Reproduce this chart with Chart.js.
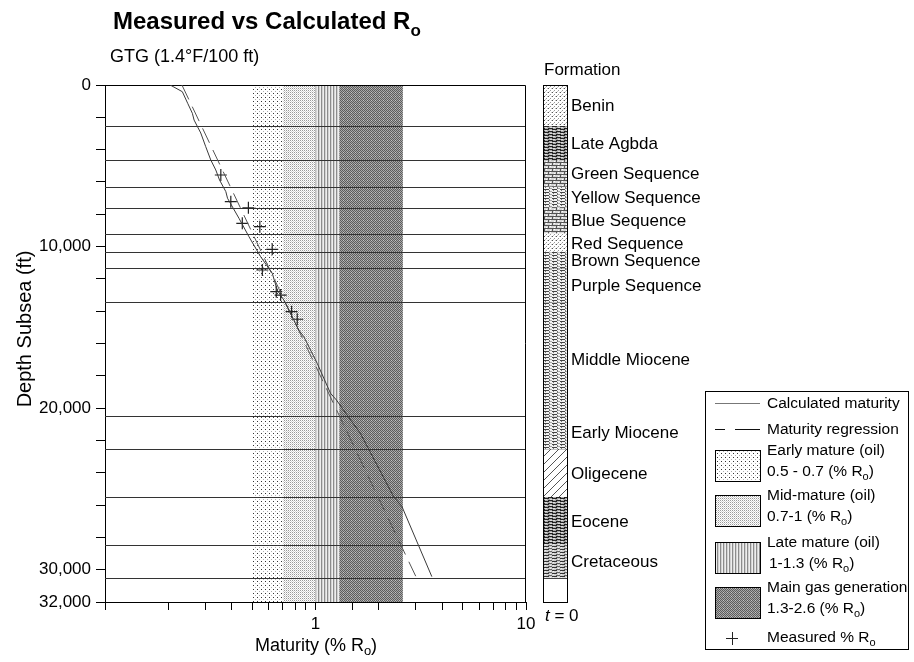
<!DOCTYPE html>
<html>
<head>
<meta charset="utf-8">
<script src="https://cdn.jsdelivr.net/npm/chart.js@4.4.1/dist/chart.umd.min.js"></script>
<style>
  body { margin: 0; background: #fff; }
  canvas { display: block; }
</style>
</head>
<body>
<canvas id="roChart" width="914" height="662"></canvas>
<script>
// calculated maturity (depth subsea ft, % Ro)
const calcDepth = [0, 415, 1130, 1750, 2170, 2970, 3820, 4640, 5260, 5880, 6600, 7010, 8250, 9390, 10630, 11650, 12690, 13310, 14550, 15170, 15580, 17230, 19080, 19500, 20430, 21560, 25480, 26100, 30430];
const calcRo = [0.204, 0.233, 0.247, 0.260, 0.265, 0.285, 0.301, 0.318, 0.336, 0.350, 0.375, 0.382, 0.433, 0.483, 0.549, 0.623, 0.658, 0.707, 0.789, 0.833, 0.880, 1.019, 1.178, 1.258, 1.413, 1.634, 2.35, 2.576, 3.57];

// maturity regression
const regDepth = [0, 30430];
const regRo = [0.232, 3.0];

// measured % Ro
const measDepth = [5570, 7220, 7600, 8560, 8770, 10170, 11450, 12790, 13000, 14030, 14500];
const measRo = [0.355, 0.396, 0.480, 0.449, 0.544, 0.623, 0.559, 0.651, 0.683, 0.770, 0.819];

// maturity windows
const bandFrom = [0.5, 0.7, 1.0, 1.3];
const bandTo = [0.7, 1.0, 1.3, 2.6];
const bandTitle = ['Early mature (oil)', 'Mid-mature (oil)', 'Late mature (oil)', 'Main gas generation'];
const bandRange = ['0.5 - 0.7 (% R', '0.7-1 (% R', '1-1.3 (% R', '1.3-2.6 (% R'];

// formations (top depth ft)
const formations = ['Benin', 'Late Agbda', 'Green Sequence', 'Yellow Sequence', 'Blue Sequence', 'Red Sequence', 'Brown Sequence', 'Purple Sequence', 'Middle Miocene', 'Early Miocene', 'Oligecene', 'Eocene', 'Cretaceous'];
const formationTop = [0, 2550, 4650, 6300, 7600, 9200, 10350, 11350, 13450, 20500, 22550, 25500, 28450];
const formationBase = 30500;

const depthMax = 32000;
const yLabelled = [0, 10000, 20000, 30000, 32000];
const xLabelled = [1, 10];

const FONT = '"Liberation Sans", Arial, Helvetica, sans-serif';

// ---- fill patterns ----
function makePattern(w, h, paint) {
  const c = document.createElement('canvas');
  c.width = w; c.height = h;
  const g = c.getContext('2d');
  paint(g);
  return g.createPattern(c, 'repeat');
}
function px(g, color, rects) {
  g.fillStyle = color;
  rects.forEach(r => g.fillRect(r[0], r[1], r[2] || 1, r[3] || 1));
}
const pats = {
  early: makePattern(4, 4, g => { px(g, '#fff', [[0, 0, 4, 4]]); px(g, '#333', [[1, 1]]); px(g, '#b0b0b0', [[3, 3]]); }),
  mid: makePattern(2, 2, g => { px(g, '#fff', [[0, 0, 2, 2]]); px(g, '#9a9a9a', [[0, 0]]); px(g, '#d4d4d4', [[1, 1]]); }),
  late: makePattern(3, 2, g => { px(g, '#8c8c8c', [[0, 0, 1, 2]]); px(g, '#d2d2d2', [[1, 0, 1, 2]]); px(g, '#eeeeee', [[2, 0, 1, 2]]); }),
  gas: makePattern(4, 4, g => { px(g, '#a8a8a8', [[0, 0, 4, 4]]); px(g, '#5c5c5c', [[0, 0], [2, 0], [1, 1], [3, 1], [0, 2], [2, 2], [1, 3], [3, 3]]); px(g, '#c4c4c4', [[3, 0]]); }),
  sand: makePattern(4, 4, g => { px(g, '#fff', [[0, 0, 4, 4]]); px(g, '#555', [[0, 0]]); px(g, '#999', [[2, 2]]); px(g, '#c8c8c8', [[3, 0], [1, 3]]); }),
  shaleDark: makePattern(8, 3, g => { px(g, '#a8a8a8', [[0, 0, 8, 3]]); px(g, '#222', [[0, 0, 5, 1], [4, 2, 4, 1], [0, 2, 1, 1]]); px(g, '#dcdcdc', [[6, 1, 2, 1], [1, 1, 2, 1]]); }),
  brickDot: makePattern(8, 6, g => { px(g, '#d8d8d8', [[0, 0, 8, 6]]); px(g, '#555', [[0, 0, 8, 1], [0, 3, 8, 1], [0, 1, 1, 2], [4, 4, 1, 2]]); px(g, '#fff', [[2, 1], [6, 4], [6, 2], [2, 5]]); }),
  brick: makePattern(8, 3, g => { px(g, '#f2f2f2', [[0, 0, 8, 3]]); px(g, '#444', [[0, 0, 5, 1]]); px(g, '#777', [[5, 1, 1, 2], [1, 1, 1, 1]]); px(g, '#aaa', [[6, 2, 2, 1]]); }),
  hatch: makePattern(8, 8, g => { px(g, '#fff', [[0, 0, 8, 8]]); for (let i = 0; i < 8; i++) px(g, '#555', [[7 - i, i]]); }),
  shaleMid: makePattern(8, 3, g => { px(g, '#cfcfcf', [[0, 0, 8, 3]]); px(g, '#333', [[0, 0, 5, 1]]); px(g, '#666', [[4, 2, 4, 1]]); px(g, '#f0f0f0', [[1, 1], [6, 1]]); })
};
const bandStyle = ['early', 'mid', 'late', 'gas'];
const formationStyle = ['sand', 'shaleDark', 'brickDot', 'brick', 'brickDot', 'sand', 'brick', 'brick', 'brick', 'brick', 'hatch', 'shaleDark', 'shaleMid'];

// text with a subscript "o" after R
function subText(ctx, main, sub, tail, x, y, size, bold, align) {
  const f = (bold ? 'bold ' : '') + size + 'px ' + FONT;
  const fs = (bold ? 'bold ' : '') + Math.round(size * 0.72) + 'px ' + FONT;
  ctx.font = f; const w1 = ctx.measureText(main).width; const w3 = ctx.measureText(tail).width;
  ctx.font = fs; const w2 = ctx.measureText(sub).width;
  let x0 = x;
  if (align === 'center') x0 = x - (w1 + w2 + w3) / 2;
  ctx.textAlign = 'left';
  ctx.font = f; ctx.fillText(main, x0, y);
  ctx.font = fs; ctx.fillText(sub, x0 + w1, y + size * 0.3);
  ctx.font = f; ctx.fillText(tail, x0 + w1 + w2, y);
}

const backdrop = {
  id: 'backdrop',
  beforeDatasetsDraw(chart) {
    const { ctx, chartArea: a, scales: { x, y } } = chart;
    ctx.save();
    for (let i = 0; i < bandFrom.length; i++) {
      const x0 = x.getPixelForValue(bandFrom[i]);
      const x1 = x.getPixelForValue(bandTo[i]);
      ctx.fillStyle = pats[bandStyle[i]];
      ctx.fillRect(x0, a.top, x1 - x0, a.bottom - a.top);
    }
    ctx.strokeStyle = '#333';
    ctx.lineWidth = 1;
    formationTop.slice(1).concat([formationBase]).forEach(d => {
      const yy = Math.round(y.getPixelForValue(d)) + 0.5;
      ctx.beginPath(); ctx.moveTo(a.left, yy); ctx.lineTo(a.right, yy); ctx.stroke();
    });
    ctx.strokeStyle = '#000';
    ctx.beginPath();
    ctx.moveTo(a.left, a.top + 0.5); ctx.lineTo(a.right - 0.5, a.top + 0.5); ctx.lineTo(a.right - 0.5, a.bottom);
    ctx.stroke();
    ctx.restore();
  }
};

const annotations = {
  id: 'annotations',
  afterDraw(chart) {
    const { ctx, chartArea: a, scales: { y } } = chart;
    ctx.save();
    ctx.fillStyle = '#000';
    ctx.textBaseline = 'alphabetic';
    subText(ctx, 'Measured vs Calculated R', 'o', '', 113, 29, 24, true, 'left');
    ctx.font = '18px ' + FONT;
    ctx.textAlign = 'left';
    ctx.fillText('GTG (1.4\u00B0F/100 ft)', 110, 62);

    // axis titles
    ctx.textBaseline = 'middle';
    subText(ctx, 'Maturity (% R', 'o', ')', 316, 646, 18, false, 'center');
    ctx.save();
    ctx.translate(25, 329);
    ctx.rotate(-Math.PI / 2);
    ctx.font = '20px ' + FONT;
    ctx.textAlign = 'center';
    ctx.fillText('Depth Subsea (ft)', 0, 0);
    ctx.restore();

    // formation column
    const cx = 543, cw = 24;
    for (let i = 0; i < formations.length; i++) {
      const y0 = y.getPixelForValue(formationTop[i]);
      const y1 = y.getPixelForValue(i + 1 < formations.length ? formationTop[i + 1] : formationBase);
      ctx.fillStyle = pats[formationStyle[i]];
      ctx.fillRect(cx, y0, cw, y1 - y0);
      ctx.strokeStyle = '#444';
      ctx.beginPath(); ctx.moveTo(cx, Math.round(y1) + 0.5); ctx.lineTo(cx + cw, Math.round(y1) + 0.5); ctx.stroke();
      ctx.fillStyle = '#000';
      ctx.font = '17px ' + FONT;
      ctx.textAlign = 'left';
      ctx.fillText(formations[i], 571, (y0 + y1) / 2 + 1);
    }
    ctx.strokeStyle = '#000';
    ctx.strokeRect(cx + 0.5, a.top + 0.5, cw, a.bottom - a.top);
    ctx.fillStyle = '#000';
    ctx.font = '17px ' + FONT;
    ctx.textAlign = 'left';
    ctx.fillText('Formation', 544, 70);
    ctx.font = 'italic 17px ' + FONT;
    ctx.fillText('t', 545, 616);
    const tw = ctx.measureText('t').width;
    ctx.font = '17px ' + FONT;
    ctx.fillText(' = 0', 545 + tw, 616);

    // legend
    const lx = 715, tx = 767;
    ctx.strokeStyle = '#000';
    ctx.lineWidth = 1;
    ctx.strokeRect(705.5, 391.5, 203, 258);
    ctx.font = '15.5px ' + FONT;
    ctx.strokeStyle = '#777';
    ctx.beginPath(); ctx.moveTo(lx, 403.5); ctx.lineTo(lx + 45, 403.5); ctx.stroke();
    ctx.fillText('Calculated maturity', tx, 404);
    ctx.strokeStyle = '#111';
    ctx.beginPath(); ctx.moveTo(lx, 429.5); ctx.lineTo(lx + 10, 429.5); ctx.moveTo(lx + 20, 429.5); ctx.lineTo(lx + 45, 429.5); ctx.stroke();
    ctx.fillText('Maturity regression', tx, 430);
    const boxTop = [450, 495, 542, 587];
    for (let i = 0; i < bandFrom.length; i++) {
      ctx.fillStyle = pats[bandStyle[i]];
      ctx.fillRect(lx, boxTop[i], 45, 31);
      ctx.strokeStyle = '#000';
      ctx.strokeRect(lx + 0.5, boxTop[i] + 0.5, 45, 31);
      ctx.fillStyle = '#000';
      ctx.font = '15.5px ' + FONT;
      ctx.fillText(bandTitle[i], tx, boxTop[i] + 1);
      subText(ctx, bandRange[i], 'o', ')', tx + (i === 2 ? 2 : 0), boxTop[i] + 22, 15.5, false, 'left');
    }
    ctx.strokeStyle = '#222';
    ctx.beginPath();
    ctx.moveTo(726, 638.5); ctx.lineTo(738, 638.5);
    ctx.moveTo(732.5, 632); ctx.lineTo(732.5, 645);
    ctx.stroke();
    subText(ctx, 'Measured % R', 'o', '', tx, 638, 15.5, false, 'left');
    ctx.restore();
  }
};

const canvas = document.getElementById('roChart');
const chart = new Chart(canvas, {
  type: 'scatter',
  data: {
    datasets: [
      {
        label: 'Calculated maturity',
        data: calcDepth.map((d, i) => ({ x: calcRo[i], y: d })),
        showLine: true,
        borderColor: '#3a3a3a',
        borderWidth: 1,
        pointRadius: 0,
        tension: 0
      },
      {
        label: 'Maturity regression',
        data: regDepth.map((d, i) => ({ x: regRo[i], y: d })),
        showLine: true,
        borderColor: '#555',
        borderWidth: 1,
        borderDash: [16, 8],
        pointRadius: 0
      },
      {
        label: 'Measured % Ro',
        data: measDepth.map((d, i) => ({ x: measRo[i], y: d })),
        pointStyle: 'cross',
        pointRadius: 6,
        borderColor: '#222',
        borderWidth: 1.2
      }
    ]
  },
  options: {
    responsive: false,
    animation: false,
    layout: { padding: { top: 85, right: 388, left: 0, bottom: 0 } },
    plugins: {
      legend: { display: false },
      title: { display: false },
      tooltip: { enabled: false }
    },
    scales: {
      x: {
        type: 'logarithmic',
        min: 0.1,
        max: 10,
        afterFit: s => { s.height = 60; },
        grid: { drawOnChartArea: false, drawTicks: true, tickLength: 8, color: '#000' },
        border: { display: true, color: '#000' },
        ticks: {
          autoSkip: false,
          maxRotation: 0,
          padding: 4,
          color: '#000',
          font: { family: FONT, size: 17 },
          callback: v => (xLabelled.includes(Number(v)) ? String(v) : '')
        }
      },
      y: {
        type: 'linear',
        min: 0,
        max: depthMax,
        reverse: true,
        afterFit: s => { s.width = 105; },
        grid: { drawOnChartArea: false, drawTicks: true, tickLength: 9, color: '#000' },
        border: { display: true, color: '#000' },
        ticks: {
          stepSize: 2000,
          autoSkip: false,
          padding: 5,
          color: '#000',
          font: { family: FONT, size: 17 },
          callback: v => (yLabelled.includes(v) ? v.toLocaleString('en-US') : '')
        }
      }
    }
  },
  plugins: [backdrop, annotations]
});
</script>
</body>
</html>
